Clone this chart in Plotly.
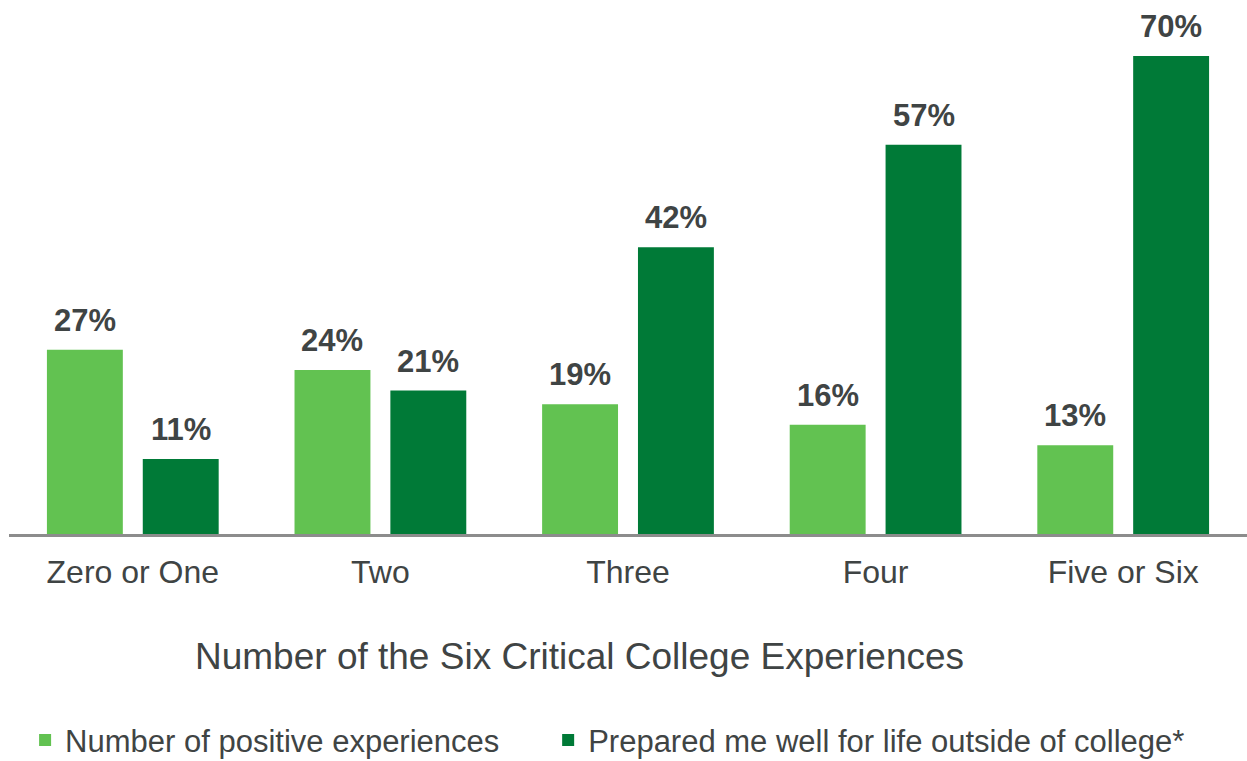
import plotly.graph_objects as go

categories = ["Zero or One", "Two", "Three", "Four", "Five or Six"]
positive_experiences = [27, 24, 19, 16, 13]
prepared_well = [11, 21, 42, 57, 70]
series_names = ["Number of positive experiences", "Prepared me well for life outside of college*"]

LIGHT = "#62C251"
DARK = "#007A37"
TEXT = "#3F4444"
FONT = "Liberation Sans, Arial, sans-serif"

fig = go.Figure()
fig.add_trace(go.Bar(x=categories, y=positive_experiences, name=series_names[0],
                     marker=dict(color=LIGHT, line=dict(width=0)), legend="legend"))
fig.add_trace(go.Bar(x=categories, y=prepared_well, name=series_names[1],
                     marker=dict(color=DARK, line=dict(width=0)), legend="legend2"))

# value labels above each bar, offset to the bar's slot within the group
for offset, values in ((-0.1935, positive_experiences), (0.1935, prepared_well)):
    for i, v in enumerate(values):
        fig.add_annotation(x=i + offset, y=v, text=f"<b>{v}%</b>", showarrow=False,
                           yanchor="bottom", yshift=10,
                           font=dict(size=31, color=TEXT, family=FONT))

fig.add_annotation(x=0.461, xref="paper", y=-0.2303, yref="paper",
                   xanchor="center", yanchor="middle",
                   text="Number of the Six Critical College Experiences", showarrow=False,
                   font=dict(size=37, color=TEXT, family=FONT))

legend_style = dict(orientation="h", xanchor="left", y=-0.3865, yanchor="middle",
                    font=dict(size=31, color=TEXT, family=FONT),
                    bgcolor="rgba(0,0,0,0)",
                    itemclick=False, itemdoubleclick=False)

fig.update_layout(
    width=1247, height=761,
    margin=dict(l=9, r=0, t=0, b=227, autoexpand=False),
    plot_bgcolor="white", paper_bgcolor="white",
    barmode="group", bargap=0.2258, bargroupgap=0.208,
    font=dict(family=FONT, color=TEXT),
    showlegend=True,
    legend=dict(x=0.013, **legend_style),
    legend2=dict(x=0.4355, **legend_style),
    xaxis=dict(showline=True, linecolor="#8C8C8C", linewidth=3, ticks="",
               ticklabelstandoff=8,
               tickfont=dict(size=32, color=TEXT, family=FONT), showgrid=False),
    yaxis=dict(range=[0, 78.2], visible=False, showgrid=False, zeroline=False),
)

fig.write_html("out.html")
